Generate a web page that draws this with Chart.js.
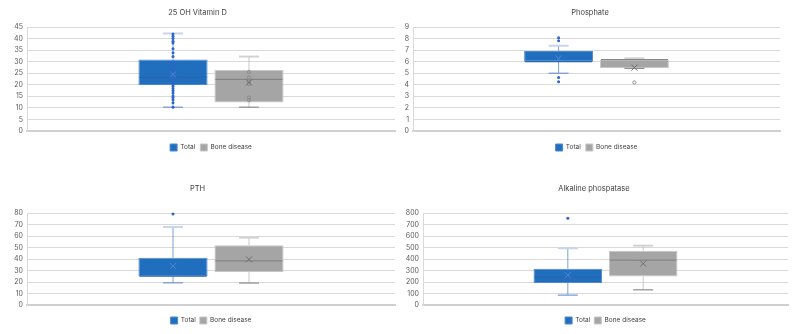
<!DOCTYPE html>
<html>
<head>
<meta charset="utf-8">
<script src="https://cdn.jsdelivr.net/npm/chart.js@4.4.1/dist/chart.umd.min.js"></script>
<style>
  body { margin: 0; background: #fff; }
  .grid { display: grid; grid-template-columns: 400px 400px; grid-template-rows: 167px 167px; width: 800px; height: 334px; }
  .cell { position: relative; width: 400px; height: 167px; }
</style>
</head>
<body>
<div class="grid">
  <div class="cell"><canvas id="c0"></canvas></div>
  <div class="cell"><canvas id="c1"></canvas></div>
  <div class="cell"><canvas id="c2"></canvas></div>
  <div class="cell"><canvas id="c3"></canvas></div>
</div>
<script>
// panels
const titles = ['25 OH Vitamin D', 'Phosphate', 'PTH', 'Alkaline phospatase'];
const seriesNames = ['Total', 'Bone disease'];
const yMax = [45, 9, 80, 800];
const yStep = [5, 1, 10, 100];

// box stats per panel: [min, q1, median, q3, max]
const totalBox = [
    [10.3, 19.9, 23.2, 30.9, 42.2],
    [5.0, 6.0, 6.0, 6.92, 7.38],
    [19.3, 25.1, 25.1, 41, 67.9],
    [86, 192, 243, 316, 493]
];
const totalMean = [24.5, 6.29, 33.8, 260];
const totalPoints = [
    [42, 41, 40, 38.8, 38.1, 35.6, 33.9, 32.2, 30, 28.5, 27, 26, 25, 24, 23, 22, 21, 20, 19.3, 18.3, 17.4, 16.4, 15.3, 14.5, 13.5, 12.2, 10.3],
    [8.07, 7.81, 4.64, 4.27],
    [79.1],
    [754]
];

const boneBox = [
    [10.3, 12.3, 22.3, 26.4, 32.2],
    [5.42, 5.42, 6.17, 6.17, 6.29],
    [19.1, 28.6, 38.4, 52, 58.6],
    [132, 248, 390, 472, 516]
];
const boneMean = [21, 5.48, 39.6, 360];
const bonePoints = [
    [25.5, 23.2, 21.4, 20.3, 14.5, 13.3],
    [4.2],
    [],
    []
];

// layout per panel (styling only)
const axisWidth = [27, 13, 27, 23];
const padRight = [5, 20, 5, 12];

function line(ctx, x1, y1, x2, y2) {
    ctx.beginPath();
    ctx.moveTo(x1, y1);
    ctx.lineTo(x2, y2);
    ctx.stroke();
}

// whiskers, caps, median, mean and points on top of the floating bars
const boxExtras = {
    id: 'boxExtras',
    afterDatasetsDraw(chart) {
        const ctx = chart.ctx;
        const y = chart.scales.y;
        chart.data.datasets.forEach((ds, i) => {
            const bar = chart.getDatasetMeta(i).data[0];
            if (!bar) return;
            const [mn, q1, med, q3, mx] = ds.stats;
            const x = bar.x;
            const half = bar.width / 2;
            const capHalf = 10;
            ctx.save();
            ctx.strokeStyle = ds.whiskerColor;
            ctx.lineWidth = 1;
            if (mx > q3) line(ctx, x, y.getPixelForValue(q3), x, y.getPixelForValue(mx));
            if (mn < q1) line(ctx, x, y.getPixelForValue(q1), x, y.getPixelForValue(mn));
            ctx.strokeStyle = ds.topCapColor;
            ctx.lineWidth = 2;
            line(ctx, x - capHalf, y.getPixelForValue(mx), x + capHalf, y.getPixelForValue(mx));
            ctx.strokeStyle = ds.bottomCapColor;
            ctx.lineWidth = 1.2;
            line(ctx, x - capHalf, y.getPixelForValue(mn), x + capHalf, y.getPixelForValue(mn));
            ctx.strokeStyle = ds.medianColor;
            ctx.lineWidth = 1.2;
            const my = y.getPixelForValue(med);
            line(ctx, x - half + 1, my, x + half - 1, my);
            ds.points.forEach(v => {
                const py = y.getPixelForValue(v);
                ctx.beginPath();
                ctx.arc(x, py, ds.pointRadius, 0, Math.PI * 2);
                if (ds.pointHollow) {
                    ctx.strokeStyle = ds.pointColor;
                    ctx.lineWidth = 1;
                    ctx.stroke();
                } else {
                    ctx.fillStyle = ds.pointColor;
                    ctx.fill();
                }
            });
            const ay = y.getPixelForValue(ds.mean);
            ctx.strokeStyle = ds.meanColor;
            ctx.lineWidth = 1;
            line(ctx, x - 3, ay - 3, x + 3, ay + 3);
            line(ctx, x - 3, ay + 3, x + 3, ay - 3);
            ctx.restore();
        });
    }
};

Chart.defaults.font.family = 'Inter, "Liberation Sans", sans-serif';
Chart.defaults.color = '#595959';

for (let p = 0; p < 4; p++) {
    const isTop = p < 2;
    const ctx = document.getElementById('c' + p);
    new Chart(ctx, {
        type: 'bar',
        data: {
            labels: [''],
            datasets: [
                {
                    label: seriesNames[0],
                    data: [[totalBox[p][1], totalBox[p][3]]],
                    stats: totalBox[p],
                    mean: totalMean[p],
                    points: totalPoints[p],
                    backgroundColor: '#1f6fbe',
                    borderColor: '#4f88cf',
                    borderWidth: 1,
                    borderSkipped: false,
                    whiskerColor: '#7ba2db',
                    topCapColor: '#c8d4ee',
                    bottomCapColor: '#6f97d6',
                    medianColor: '#2b64ad',
                    meanColor: '#4f88d6',
                    pointColor: '#2e66c8',
                    pointRadius: 1.5,
                    pointHollow: false
                },
                {
                    label: seriesNames[1],
                    data: [[boneBox[p][1], boneBox[p][3]]],
                    stats: boneBox[p],
                    mean: boneMean[p],
                    points: bonePoints[p],
                    backgroundColor: '#a5a5a5',
                    borderColor: '#c6c6c6',
                    borderWidth: 1,
                    borderSkipped: false,
                    whiskerColor: '#c8c8c8',
                    topCapColor: '#d2d2d2',
                    bottomCapColor: '#8c8c8c',
                    medianColor: '#858585',
                    meanColor: '#6e6e6e',
                    pointColor: '#8c8c8c',
                    pointRadius: 1.6,
                    pointHollow: true
                }
            ]
        },
        options: {
            responsive: true,
            maintainAspectRatio: false,
            animation: false,
            categoryPercentage: 0.413,
            barPercentage: 0.91,
            layout: {
                padding: { left: 0, right: padRight[p], top: 0, bottom: isTop ? 6 : 0 }
            },
            scales: {
                x: {
                    ticks: { display: false },
                    grid: { display: false },
                    border: { display: true, color: '#d0d0d0', width: 2 }
                },
                y: {
                    min: 0,
                    max: yMax[p],
                    ticks: { stepSize: yStep[p], font: { size: 7 }, color: '#595959', padding: 4 },
                    grid: { color: '#d9d9d9', lineWidth: 1, drawTicks: false },
                    border: { display: true, color: '#d9d9d9' },
                    afterFit: function(scale) { scale.width = axisWidth[p]; }
                }
            },
            plugins: {
                title: {
                    display: true,
                    text: titles[p],
                    color: '#404040',
                    font: { size: 7.5, weight: 'normal' },
                    padding: { top: isTop ? 8.3 : 17.3, bottom: isTop ? 9.7 : 19.7 }
                },
                legend: {
                    position: 'bottom',
                    fullSize: false,
                    labels: {
                        boxWidth: 7,
                        boxHeight: 7,
                        font: { size: 6.5 },
                        color: '#404040',
                        padding: isTop ? 5 : 4
                    }
                },
                tooltip: { enabled: false }
            }
        },
        plugins: [boxExtras]
    });
}
</script>
</body>
</html>
